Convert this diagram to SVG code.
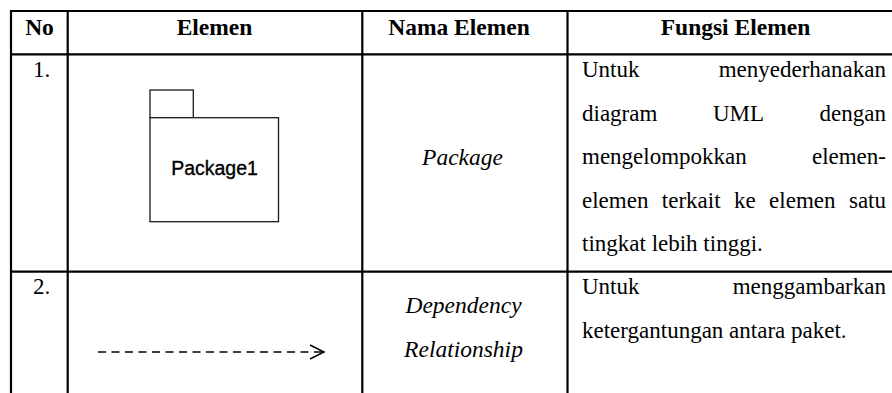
<svg xmlns="http://www.w3.org/2000/svg" width="892" height="393" viewBox="0 0 892 393">
  <style>
    .grid { stroke: #000; stroke-width: 2.2; fill: none; }
    .hd { font-family: "Liberation Serif", "Times New Roman", serif; font-weight: bold; font-size: 23.5px; fill: #000; text-anchor: middle; }
    .tx { font-family: "Liberation Serif", "Times New Roman", serif; font-size: 23px; fill: #000; }
    .it { font-family: "Liberation Serif", "Times New Roman", serif; font-style: italic; font-size: 23.5px; fill: #000; text-anchor: middle; }
    .end { text-anchor: end; }
    .mid { text-anchor: middle; }
    .pkg { fill: #fff; stroke: #1a1a1a; stroke-width: 1.3; }
    .pkgtxt { font-family: "Liberation Sans", Arial, sans-serif; font-size: 19.5px; fill: #000; stroke: #000; stroke-width: 0.35; text-anchor: middle; }
    .dep { stroke: #000; stroke-width: 1.5; fill: none; }
  </style>
  <defs>
    <marker id="openArrow" markerWidth="18" markerHeight="18" refX="15" refY="8" orient="auto" markerUnits="userSpaceOnUse">
      <path d="M1,1 L15,8 L1,15" fill="none" stroke="#000" stroke-width="1.5"/>
    </marker>
  </defs>

  <rect width="892" height="393" fill="#fff"/>

  <!-- table rules (table continues past the right and bottom edges) -->
  <g id="grid" class="grid">
    <line x1="11" y1="11" x2="892" y2="11"/>
    <line x1="10" y1="54.3" x2="892" y2="54.3"/>
    <line x1="10" y1="271.7" x2="892" y2="271.7"/>
    <line x1="11" y1="10" x2="11" y2="393"/>
    <line x1="67.7" y1="10" x2="67.7" y2="393"/>
    <line x1="362.3" y1="10" x2="362.3" y2="393"/>
    <line x1="567.5" y1="10" x2="567.5" y2="393"/>
  </g>

  <!-- header row -->
  <g id="header">
    <text class="hd" x="39.5" y="34.5">No</text>
    <text class="hd" x="214.5" y="34.5">Elemen</text>
    <text class="hd" x="459" y="34.5">Nama Elemen</text>
    <text class="hd" x="735.5" y="34.5">Fungsi Elemen</text>
  </g>

  <!-- row 1: package -->
  <g id="row1">
    <text class="tx" x="33" y="77">1.</text>
    <g id="package1">
      <rect class="pkg" x="150" y="90" width="43.3" height="27.7"/>
      <rect class="pkg" x="150" y="117.7" width="128.5" height="104"/>
      <text class="pkgtxt" x="214.5" y="175">Package1</text>
    </g>
    <text class="it" x="462.5" y="165">Package</text>
    <g id="row1-desc">
      <text class="tx" x="582" y="77">Untuk</text>
      <text class="tx end" x="886" y="77">menyederhanakan</text>
      <text class="tx" x="582" y="120.5">diagram</text>
      <text class="tx mid" x="738.5" y="120.5">UML</text>
      <text class="tx end" x="886" y="120.5">dengan</text>
      <text class="tx" x="582" y="164">mengelompokkan</text>
      <text class="tx end" x="886" y="164">elemen-</text>
      <text class="tx" y="207.5"><tspan x="582">elemen</tspan><tspan x="661.8">terkait</tspan><tspan x="734">ke</tspan><tspan x="769.1">elemen</tspan></text>
      <text class="tx end" x="886" y="207.5">satu</text>
      <text class="tx" x="582" y="251">tingkat lebih tinggi.</text>
    </g>
  </g>

  <!-- row 2: dependency -->
  <g id="row2">
    <text class="tx" x="33" y="294">2.</text>
    <g id="dependency">
      <line class="dep" x1="98" y1="352" x2="324" y2="352" stroke-dasharray="8 5.5" marker-end="url(#openArrow)"/>
    </g>
    <text class="it" x="463.5" y="313">Dependency</text>
    <text class="it" x="463.5" y="356.5">Relationship</text>
    <g id="row2-desc">
      <text class="tx" x="582" y="294">Untuk</text>
      <text class="tx end" x="886" y="294">menggambarkan</text>
      <text class="tx" x="582" y="337.5">ketergantungan antara paket.</text>
    </g>
  </g>
</svg>
